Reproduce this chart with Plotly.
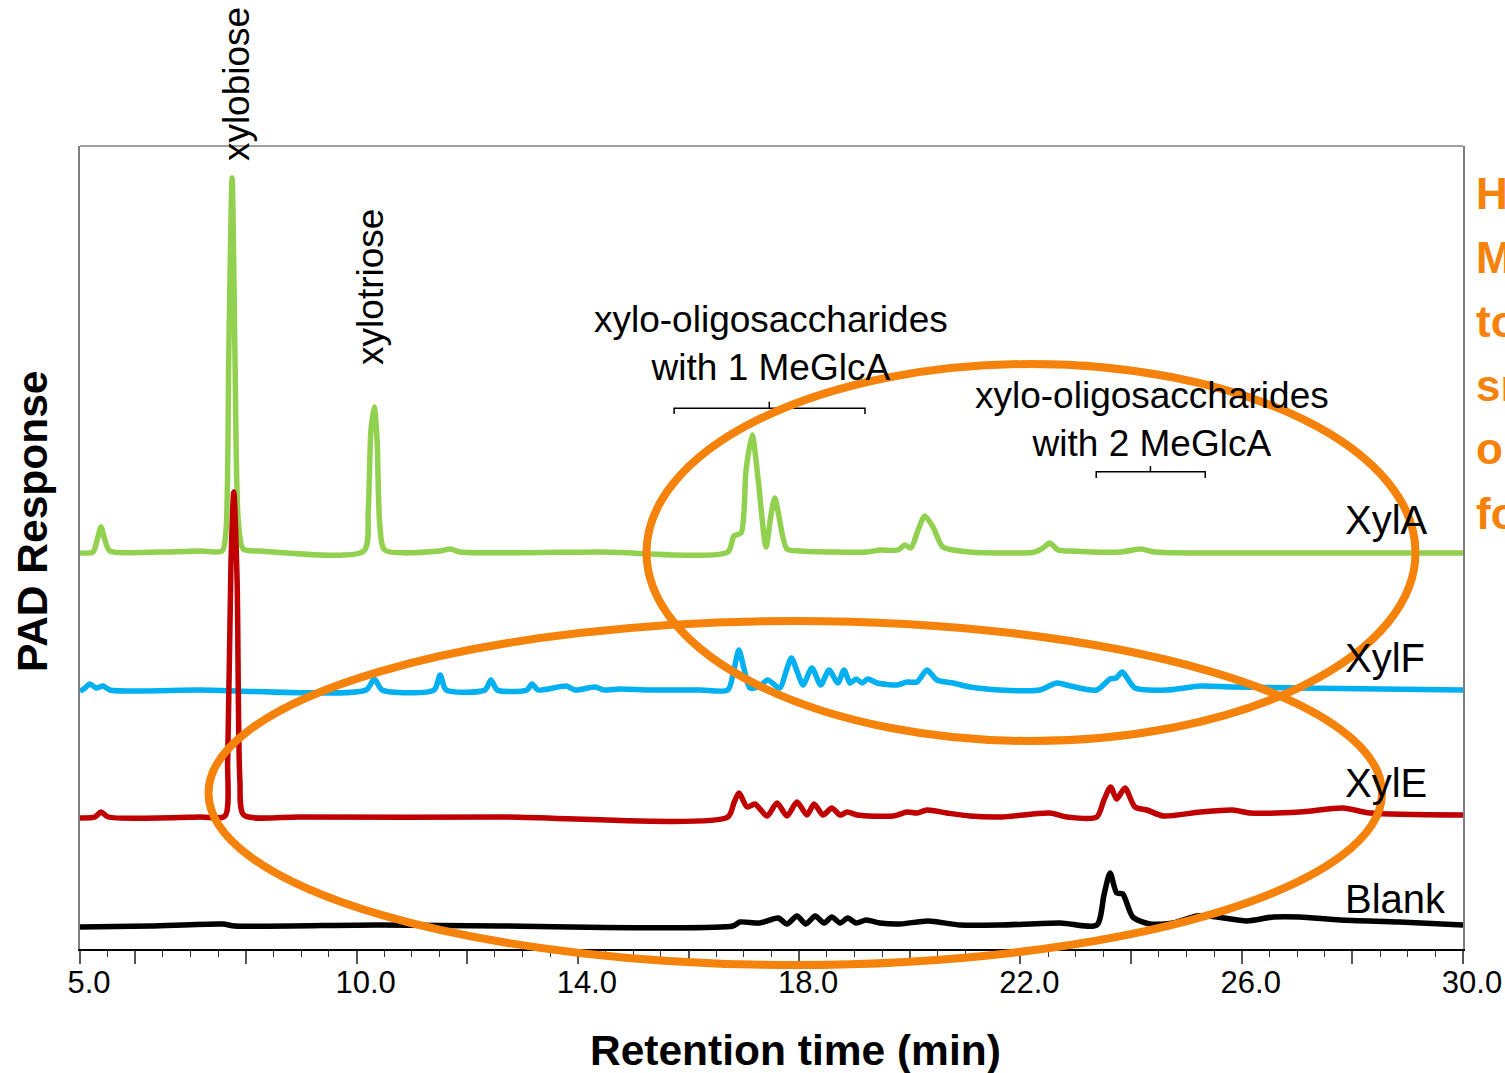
import plotly.graph_objects as go

# ---------------- data (retention time in min, PAD response in arbitrary units) ----------------
xyla_t = [5.00, 5.235, 5.31, 5.38, 5.45, 5.54, 6.45, 7.17, 7.57, 7.64, 7.69, 7.75, 7.80, 7.86, 7.95,
          8.25, 10.13, 10.21, 10.26, 10.32, 10.37, 10.42, 10.51, 11.51, 11.69, 11.87, 14.40, 16.71,
          16.82, 16.95, 17.04, 17.15, 17.26, 17.40, 17.49, 17.56, 17.63, 17.78, 18.02, 19.23, 19.46,
          19.79, 19.91, 20.02, 20.15, 20.27, 20.42, 20.60, 21.09, 22.26, 22.41, 22.53, 22.68, 22.90,
          23.80, 24.18, 24.43, 27.05, 30.00]
xyla_y = [39.6, 39.7, 40.9, 42.2, 40.9, 39.8, 39.7, 39.8, 39.8, 41.9, 59.9, 77.1, 59.9, 42.9, 40.0,
          39.8, 39.8, 43.9, 51.9, 54.2, 50.9, 42.4, 39.9, 39.8, 40.0, 39.7, 39.7, 39.7,
          41.3, 41.6, 47.9, 51.4, 46.9, 40.2, 43.4, 45.1, 43.4, 40.0, 39.8, 39.7, 39.9,
          39.9, 40.4, 40.1, 41.9, 43.3, 42.2, 40.2, 39.7, 39.7, 40.1, 40.6, 39.9, 39.8,
          39.7, 40.0, 39.7, 39.6, 39.6]

xylf_t = [5.00, 5.07, 5.18, 5.29, 5.42, 5.54, 7.17, 10.17, 10.32, 10.46, 11.40, 11.51, 11.62, 12.32,
          12.43, 12.54, 13.08, 13.17, 13.28, 13.79, 13.95, 14.31, 14.47, 14.76, 15.30, 16.21, 16.71,
          16.82, 16.91, 17.00, 17.11, 17.29, 17.43, 17.65, 17.76, 17.86, 17.98, 18.07, 18.23, 18.39,
          18.54, 18.70, 18.81, 18.92, 19.03, 19.14, 19.24, 19.41, 19.77, 19.95, 20.13, 20.31, 20.49,
          20.78, 21.09, 21.63, 22.35, 22.66, 22.90, 23.38, 23.62, 23.73, 23.84, 24.07, 24.65, 25.25,
          25.84, 27.05, 28.50, 30.00]
xylf_y = [25.8, 26.0, 26.5, 26.1, 26.3, 25.9, 25.9, 25.9, 27.0, 25.9, 25.9, 27.4, 25.9, 25.9,
          26.9, 25.9, 25.9, 26.5, 25.9, 26.3, 25.9, 26.2, 25.9, 26.0, 25.9, 25.9, 25.9,
          27.9, 29.9, 28.1, 26.1, 26.3, 26.9, 26.1, 27.7, 29.1, 27.5, 26.4, 28.1, 26.4,
          27.9, 26.6, 27.9, 26.6, 27.0, 26.6, 27.0, 26.6, 26.4, 26.7, 26.7, 27.9, 26.9,
          26.6, 26.2, 25.9, 25.9, 26.6, 26.3, 25.9, 27.0, 27.1, 27.7, 26.1, 25.9, 26.3,
          26.2, 26.1, 26.0, 25.9]

xyle_t = [5.00, 5.27, 5.38, 5.51, 7.17, 7.62, 7.67, 7.73, 7.78, 7.84, 7.89, 7.96, 8.98, 12.59, 16.71,
          16.82, 16.91, 17.06, 17.20, 17.42, 17.60, 17.78, 17.96, 18.14, 18.27, 18.43, 18.59, 18.74,
          18.87, 19.05, 19.70, 19.95, 20.13, 20.31, 20.67, 21.09, 21.63, 22.53, 22.84, 23.38, 23.51,
          23.63, 23.74, 23.89, 24.07, 24.29, 24.58, 25.25, 25.84, 26.15, 27.05, 27.83, 28.32, 30.00]
xyle_y = [13.1, 13.2, 13.7, 13.2, 13.2, 13.3, 18.9, 38.9, 45.7, 36.9, 16.9, 13.4, 13.2, 13.2, 13.2,
          14.6, 15.6, 14.2, 14.5, 13.3, 14.6, 13.3, 14.7, 13.4, 14.5, 13.4, 14.1, 13.4,
          13.7, 13.4, 13.3, 13.7, 13.6, 13.9, 13.6, 13.3, 13.2, 13.6, 13.2, 13.2, 14.9,
          16.2, 15.0, 16.1, 14.2, 13.9, 13.3, 13.7, 13.9, 13.6, 13.7, 14.1, 13.6, 13.4]

blank_t = [5.00, 6.27, 7.58, 7.80, 10.37, 12.59, 16.80, 16.93, 17.29, 17.62, 17.78, 17.96, 18.12, 18.29,
           18.45, 18.59, 18.74, 18.88, 19.03, 19.21, 19.46, 19.82, 20.33, 20.91, 21.63, 22.72, 23.38,
           23.51, 23.62, 23.74, 23.85, 24.03, 24.34, 24.76, 25.19, 25.55, 26.09, 26.57, 27.05, 27.78,
           28.86, 30.00]
blank_y = [2.2, 2.3, 2.5, 2.3, 2.4, 2.3, 2.3, 2.7, 2.6, 3.1, 2.5, 3.3, 2.5, 3.3,
           2.6, 3.2, 2.6, 3.1, 2.6, 2.9, 2.6, 2.5, 2.8, 2.4, 2.4, 2.6, 2.4,
           5.4, 7.6, 5.6, 5.5, 3.2, 2.5, 2.6, 3.3, 3.2, 2.8, 3.2, 3.2, 2.9,
           2.7, 2.4]

series_names = ["XylA", "XylF", "XylE", "Blank"]
series_colors = ["#92D050", "#00B0F0", "#C00000", "#000000"]

tick_vals = [5, 6, 8, 10, 12, 14, 16, 18, 20, 22, 24, 26, 28, 30]
tick_text = ["5.0", "", "", "10.0", "", "14.0", "", "18.0", "", "22.0", "", "26.0", "", "30.0"]

FONT = "Liberation Sans, Arial, sans-serif"
ORANGE = "#F5820A"

fig = go.Figure()
for name, t, y, c in zip(series_names, [xyla_t, xylf_t, xyle_t, blank_t],
                         [xyla_y, xylf_y, xyle_y, blank_y], series_colors):
    fig.add_trace(go.Scatter(x=t, y=y, mode="lines", name=name,
                             line=dict(color=c, width=5.5, shape="spline", smoothing=0.7),
                             showlegend=False, hoverinfo="skip"))

W, H = 1505, 1073
ML, MR, MT, MB = 80, 42, 146, 124

fig.update_layout(
    width=W, height=H, autosize=False,
    margin=dict(l=ML, r=MR, t=MT, b=MB, pad=0, autoexpand=False),
    paper_bgcolor="white", plot_bgcolor="white",
    font=dict(family=FONT, color="black"),
    xaxis=dict(range=[5, 30], showgrid=False, zeroline=False, automargin=False,
               showline=True, linecolor="black", linewidth=1.5,
               ticks="outside", ticklen=13, tickwidth=1.5, tickcolor="#555",
               tickvals=tick_vals, ticktext=tick_text,
               tickfont=dict(size=31, family=FONT, color="black"),
               ticklabelshift=9, ticklabelstandoff=-8,
               minor=dict(ticks="outside", ticklen=6, tickwidth=1.2, tickcolor="#333",
                          tick0=5, dtick=0.5)),
    yaxis=dict(range=[0, 80.3], showgrid=False, zeroline=False, showticklabels=False,
               automargin=False,
               showline=True, linecolor="#7f7f7f", linewidth=1.5, mirror=True, ticks=""),
)

# top frame line
fig.add_shape(type="line", xref="paper", yref="paper", x0=0, x1=1, y0=1, y1=1,
              line=dict(color="#7f7f7f", width=1.5), layer="above")

def ann(text, x, y, size, xref="x", yref="y", xanchor="center", yanchor="middle",
        angle=0, color="black", bold=False):
    if bold:
        text = "<b>" + text + "</b>"
    fig.add_annotation(text=text, x=x, y=y, xref=xref, yref=yref, showarrow=False,
                       xanchor=xanchor, yanchor=yanchor, textangle=angle,
                       font=dict(size=size, family=FONT, color=color), align="center")

def px2paper(px, py):
    return (px - ML) / (W - ML - MR), (H - MB - py) / (H - MT - MB)

# peak labels
ann("xylobiose", 7.84, px2paper(0, 84)[1], 37, yref="paper", angle=-90)
ann("xylotriose", 10.24, 66.2, 37, angle=-90)
ann("xylo-oligosaccharides<br>with 1 MeGlcA", 17.49, 60.6, 37)
ann("xylo-oligosaccharides<br>with 2 MeGlcA", 24.38, 52.95, 37)

# brackets
def bracket(x0, x1, xc, y, ydown, yup):
    path = (f"M {x0},{ydown} L {x0},{y} L {x1},{y} L {x1},{ydown} "
            f"M {xc},{y} L {xc},{yup}")
    fig.add_shape(type="path", xref="x", yref="y", path=path,
                  line=dict(color="black", width=1.5))

bracket(15.74, 19.19, 17.46, 54.07, 53.5, 54.73)
bracket(23.37, 25.34, 24.35, 47.73, 47.1, 48.3)

# trace labels
for name, yv in zip(series_names, [42.9, 29.1, 16.6, 5.0]):
    ann(name, 27.83, yv, 40, xanchor="left")

# axis titles
ann("Retention time (min)", 0.5177, -0.1258, 42.5, xref="paper", yref="paper", bold=True)
ann("PAD Response", -0.0347, 0.533, 42.5, xref="paper", yref="paper", angle=-90, bold=True)

# orange ellipses (highlights)
for (a, b, c, d) in [(646.5, 364, 1415.5, 741), (208.5, 621, 1382, 965)]:
    x0, y1 = px2paper(a, b)
    x1, y0 = px2paper(c, d)
    fig.add_shape(type="circle", xref="paper", yref="paper", x0=x0, x1=x1, y0=y0, y1=y1,
                  line=dict(color=ORANGE, width=8), layer="above")

# orange side text (clipped at the page edge)
side_lines = ["Higher", "MeGlcA", "to", "small", "o ", "for"]
for i, s in enumerate(side_lines):
    py = 193 + 64 * i
    xp, yp = px2paper(1474, py)
    ann(s, xp, yp, 44, xref="paper", yref="paper", xanchor="left", color=ORANGE, bold=True)

fig.write_html("out.html", config={"displayModeBar": False},
               post_script="document.body.style.margin='0';document.body.style.overflow='hidden';")
